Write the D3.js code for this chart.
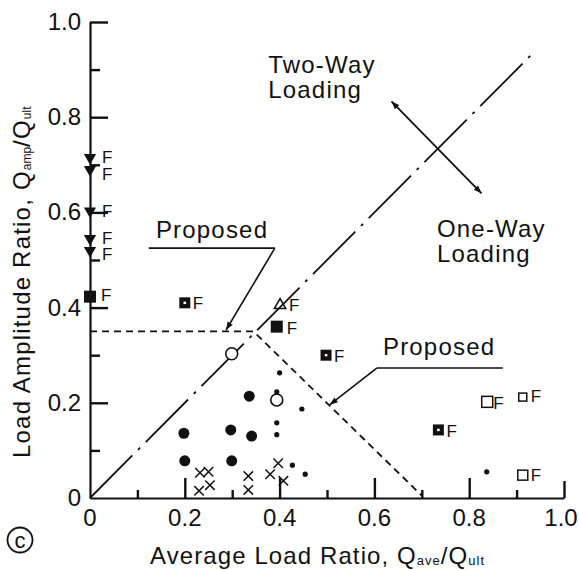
<!DOCTYPE html>
<html>
<head>
<meta charset="utf-8">
<script src="https://cdn.jsdelivr.net/npm/d3@7"></script>
<style>
  body { margin: 0; background: #fff; overflow: hidden; }
  svg { display: block; }
  svg text { font-family: "Liberation Sans", Arial, Helvetica, sans-serif; fill: #111; }
</style>
</head>
<body>
<div id="chart"></div>
<script>
// data (x = Qave/Qult, y = Qamp/Qult)
const failTriangles = [[0, 0.715], [0, 0.69], [0, 0.603], [0, 0.545], [0, 0.52]];
const filledSquares = [[0, 0.423], [0.394, 0.36]];
const crossedSquares = [[0.2, 0.41], [0.498, 0.30], [0.735, 0.143]];
const openSquares = [[0.838, 0.202, 11], [0.913, 0.212, 8], [0.913, 0.048, 10]];
const openTriangles = [[0.401, 0.405]];
const openCircles = [[0.299, 0.303], [0.394, 0.206]];
const bigDots = [[0.198, 0.136], [0.2, 0.078], [0.297, 0.143], [0.299, 0.078], [0.341, 0.130], [0.336, 0.214]];
const smallDots = [[0.4, 0.263], [0.394, 0.223], [0.447, 0.187], [0.394, 0.158], [0.394, 0.133],
                   [0.427, 0.069], [0.454, 0.05], [0.837, 0.055]];
const crosses = [[0.232, 0.053], [0.25, 0.055], [0.23, 0.015], [0.253, 0.027], [0.334, 0.046],
                 [0.334, 0.017], [0.397, 0.073], [0.38, 0.05], [0.408, 0.036]];

// points marked "F" (failure): x, y, offset right, baseline offset
const failLabels = [
  [0, 0.715, 16, 5], [0, 0.69, 16, 10], [0, 0.603, 16, 6], [0, 0.545, 16, 5], [0, 0.52, 16, 10],
  [0, 0.423, 15, 4], [0.2, 0.41, 12, 6], [0.401, 0.405, 13, 6], [0.394, 0.36, 14, 7],
  [0.498, 0.30, 12, 7], [0.735, 0.143, 12, 7], [0.838, 0.202, 10, 7], [0.913, 0.212, 12, 5],
  [0.913, 0.048, 12, 6]
];

// boundary lines
const boundaryLine = [[0, 0], [0.93, 0.93]];
const proposedLine = [[0, 0.35], [0.345, 0.35], [0.7, 0.005]];

const xTicks = [0.1, 0.2, 0.3, 0.4, 0.5, 0.6, 0.7, 0.8, 0.9, 1.0];
const yTicks = [0.1, 0.2, 0.3, 0.4, 0.5, 0.6, 0.7, 0.8, 0.9, 1.0];
const xTickLabels = ["0", "0.2", "0.4", "0.6", "0.8", "1.0"];
const yTickLabels = ["0", "0.2", "0.4", "0.6", "0.8", "1.0"];

const width = 579, height = 570;

const x = d3.scaleLinear().domain([0, 1]).range([90, 564]);
const y = d3.scaleLinear().domain([0, 1]).range([498, 22]);

const svg = d3.select("#chart").append("svg")
  .attr("width", width)
  .attr("height", height);

const isMajor = v => Math.round(v * 10) % 2 === 0;
const xTickLen = d => isMajor(d) ? (d === 1 ? 17 : 20) : 8;
const yTickLen = d => isMajor(d) ? 18 : 10;

// axes: domain lines plus inward ticks
const xAxis = svg.append("g").attr("transform", `translate(0,${y(0)})`)
  .call(d3.axisTop(x).tickValues(xTicks).tickSize(20).tickSizeOuter(0).tickFormat(""));
xAxis.selectAll(".tick line").attr("y2", d => -xTickLen(d));

const yAxis = svg.append("g").attr("transform", `translate(${x(0)},0)`)
  .call(d3.axisRight(y).tickValues(yTicks).tickSize(18).tickSizeOuter(0).tickFormat(""));
yAxis.selectAll(".tick line").attr("x2", d => yTickLen(d));

svg.selectAll(".domain").attr("stroke", "#111").attr("stroke-width", 2.2);
svg.selectAll(".tick line").attr("stroke", "#111").attr("stroke-width", 2.4);

// tick labels
svg.append("g").selectAll("text")
  .data(xTickLabels)
  .join("text")
  .attr("x", d => x(+d) + (+d === 1 ? -3 : 0))
  .attr("y", 526)
  .attr("text-anchor", "middle")
  .attr("font-size", 24)
  .text(d => d);

svg.append("g").selectAll("text")
  .data(yTickLabels)
  .join("text")
  .attr("x", 81)
  .attr("y", d => y(+d) + 8)
  .attr("text-anchor", "end")
  .attr("font-size", 24)
  .text(d => d);

// axis titles
const xTitle = svg.append("text")
  .attr("x", 150).attr("y", 564)
  .attr("font-size", 24)
  .attr("letter-spacing", 1.1);
xTitle.append("tspan").text("Average Load Ratio, Q");
xTitle.append("tspan").attr("font-size", 13).attr("dy", 1).attr("letter-spacing", 1).text("ave");
xTitle.append("tspan").attr("dy", -1).text("/Q");
xTitle.append("tspan").attr("font-size", 13).attr("dy", 1).attr("letter-spacing", 1).text("ult");

const yTitle = svg.append("text")
  .attr("transform", "translate(30,458) rotate(-90)")
  .attr("font-size", 24)
  .attr("letter-spacing", 1.2);
yTitle.append("tspan").text("Load Amplitude Ratio, Q");
yTitle.append("tspan").attr("font-size", 12).attr("dy", 1).attr("letter-spacing", 0).text("amp");
yTitle.append("tspan").attr("dy", -1).text("/Q");
yTitle.append("tspan").attr("font-size", 12).attr("dy", 1).attr("letter-spacing", 0).text("ult");

// circled c
svg.append("circle").attr("cx", 20).attr("cy", 540).attr("r", 12.5)
  .attr("fill", "none").attr("stroke", "#111").attr("stroke-width", 1.8);
svg.append("text").attr("x", 20).attr("y", 548).attr("text-anchor", "middle")
  .attr("font-size", 22).text("c");

// lines
const line = d3.line().x(d => x(d[0])).y(d => y(d[1]));

svg.append("path")
  .attr("d", line(boundaryLine))
  .attr("fill", "none").attr("stroke", "#111").attr("stroke-width", 1.8)
  .attr("stroke-dasharray", "60,8,3,8");

svg.append("path")
  .attr("d", line(proposedLine))
  .attr("fill", "none").attr("stroke", "#111").attr("stroke-width", 1.8)
  .attr("stroke-dasharray", "7,5");

// annotations (data coords)
const notes = [
  { text: "Two-Way", at: [0.376, 0.893] },
  { text: "Loading", at: [0.376, 0.841] },
  { text: "One-Way", at: [0.732, 0.549] },
  { text: "Loading", at: [0.732, 0.495] },
  { text: "Proposed", at: [0.139, 0.546] },
  { text: "Proposed", at: [0.618, 0.300] }
];
svg.append("g").selectAll("text")
  .data(notes)
  .join("text")
  .attr("x", d => x(d.at[0]))
  .attr("y", d => y(d.at[1]))
  .attr("font-size", 24)
  .attr("letter-spacing", 1.2)
  .text(d => d.text);

// arrowheads drawn as small triangles at the tip of each leader
const arrowHead = (from, to) => {
  const x1 = x(from[0]), y1 = y(from[1]), x2 = x(to[0]), y2 = y(to[1]);
  const a = Math.atan2(y2 - y1, x2 - x1);
  const L = 8, W = 3;
  const bx = x2 - L * Math.cos(a), by = y2 - L * Math.sin(a);
  return `M${x2},${y2}L${bx + W * Math.sin(a)},${by - W * Math.cos(a)}L${bx - W * Math.sin(a)},${by + W * Math.cos(a)}Z`;
};

// underlines + leaders
const leaders = [
  { path: [[0.124, 0.525], [0.39, 0.525]], arrow: false },
  { path: [[0.39, 0.525], [0.287, 0.353]], arrow: true },
  { path: [[0.871, 0.273], [0.605, 0.273]], arrow: false },
  { path: [[0.605, 0.273], [0.506, 0.196]], arrow: true }
];
svg.append("g").selectAll("path")
  .data(leaders)
  .join("path")
  .attr("d", d => line(d.path))
  .attr("fill", "none").attr("stroke", "#111").attr("stroke-width", 1.6);
svg.append("g").selectAll("path")
  .data(leaders.filter(d => d.arrow))
  .join("path")
  .attr("d", d => arrowHead(d.path[0], d.path[1]))
  .attr("fill", "#111");

// two-way / one-way double arrow
const twoWay = [[0.636, 0.833], [0.826, 0.640]];
svg.append("path")
  .attr("d", line(twoWay))
  .attr("fill", "none").attr("stroke", "#111").attr("stroke-width", 1.8);
svg.append("path").attr("d", arrowHead(twoWay[0], twoWay[1])).attr("fill", "#111");
svg.append("path").attr("d", arrowHead(twoWay[1], twoWay[0])).attr("fill", "#111");

// markers
const marks = svg.append("g");

marks.append("g").selectAll("path")
  .data(failTriangles)
  .join("path")
  .attr("d", d3.symbol().type(d3.symbolTriangle).size(65))
  .attr("transform", d => `translate(${x(d[0])},${y(d[1])}) rotate(180)`)
  .attr("fill", "#111");

marks.append("g").selectAll("rect")
  .data(filledSquares)
  .join("rect")
  .attr("x", d => x(d[0]) - 6).attr("y", d => y(d[1]) - 6)
  .attr("width", 12).attr("height", 12)
  .attr("fill", "#111");

const cs = marks.append("g").selectAll("g")
  .data(crossedSquares)
  .join("g")
  .attr("transform", d => `translate(${x(d[0])},${y(d[1])})`);
cs.append("rect").attr("x", -5.5).attr("y", -5.5).attr("width", 11).attr("height", 11)
  .attr("fill", "#111");
cs.append("rect").attr("x", -1.3).attr("y", -1.2).attr("width", 2.6).attr("height", 2.4)
  .attr("fill", "#fff");

marks.append("g").selectAll("rect")
  .data(openSquares)
  .join("rect")
  .attr("x", d => x(d[0]) - d[2] / 2).attr("y", d => y(d[1]) - d[2] / 2)
  .attr("width", d => d[2]).attr("height", d => d[2])
  .attr("fill", "none").attr("stroke", "#111").attr("stroke-width", 1.5);

marks.append("g").selectAll("path")
  .data(openTriangles)
  .join("path")
  .attr("d", d3.symbol().type(d3.symbolTriangle).size(55))
  .attr("transform", d => `translate(${x(d[0])},${y(d[1])})`)
  .attr("fill", "none").attr("stroke", "#111").attr("stroke-width", 1.6);

marks.append("g").selectAll("circle")
  .data(openCircles)
  .join("circle")
  .attr("cx", d => x(d[0])).attr("cy", d => y(d[1])).attr("r", 6)
  .attr("fill", "#fff").attr("stroke", "#111").attr("stroke-width", 1.6);

marks.append("g").selectAll("circle")
  .data(bigDots)
  .join("circle")
  .attr("cx", d => x(d[0])).attr("cy", d => y(d[1])).attr("r", 5.5)
  .attr("fill", "#111");

marks.append("g").selectAll("circle")
  .data(smallDots)
  .join("circle")
  .attr("cx", d => x(d[0])).attr("cy", d => y(d[1])).attr("r", 2.6)
  .attr("fill", "#111");

marks.append("g").selectAll("path")
  .data(crosses)
  .join("path")
  .attr("d", d3.symbol().type(d3.symbolTimes).size(60))
  .attr("transform", d => `translate(${x(d[0])},${y(d[1])})`)
  .attr("fill", "none").attr("stroke", "#111").attr("stroke-width", 1.5);

// F labels
marks.append("g").selectAll("text")
  .data(failLabels)
  .join("text")
  .attr("x", d => x(d[0]) + d[2] - 4)
  .attr("y", d => y(d[1]) + d[3])
  .attr("font-size", 17)
  .text("F");
</script>
</body>
</html>
